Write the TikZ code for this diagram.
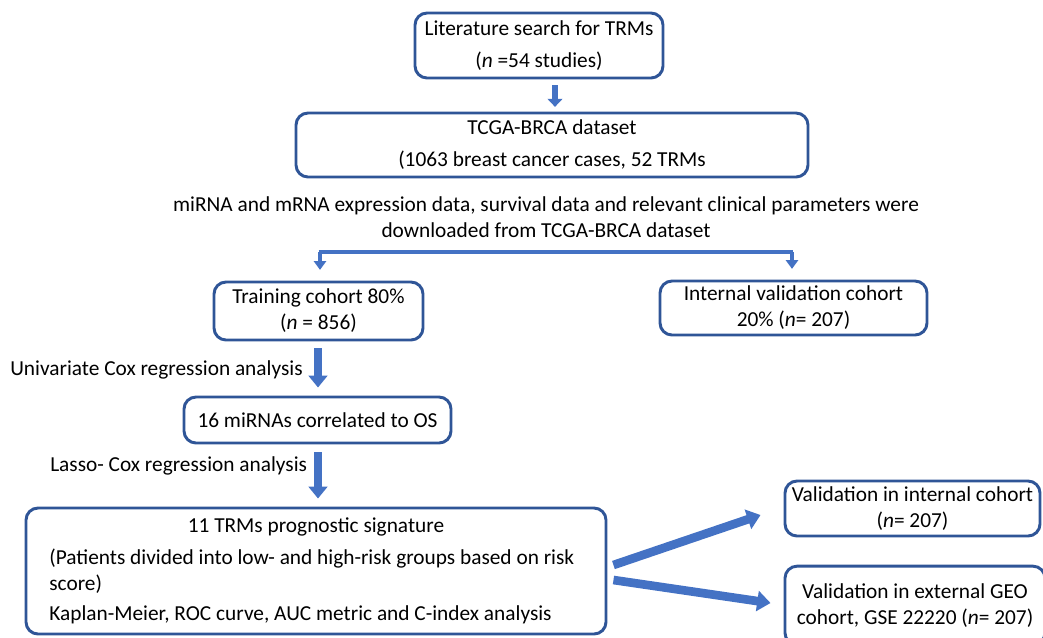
\documentclass[tikz,border=0pt]{standalone}
\usepackage{fontspec}
\setmainfont{Carlito}
\usetikzlibrary{arrows.meta,calc}
\definecolor{boxc}{HTML}{2F5597}
\definecolor{arrc}{HTML}{4472C4}
\begin{document}
\begin{tikzpicture}[x=0.75pt,y=-0.75pt,
  every node/.style={font=\fontsize{16}{19.5}\selectfont, text=black},
  box/.style={draw=boxc, line width=2.2pt, rounded corners=9pt, align=center, inner sep=0pt, fill=white},
  wide/.style={font=\fontsize{16}{24}\selectfont},
  lbl/.style={inner sep=0pt, anchor=west},
  blk/.style={draw=arrc, line width=6pt, -{Triangle[width=14pt,length=9pt]}},
  blksmall/.style={draw=arrc, line width=4.5pt, -{Triangle[width=11pt,length=6pt]}},
  split/.style={draw=arrc, line width=2.4pt},
  splitarr/.style={draw=arrc, line width=2.4pt, -{Triangle[width=9pt,length=6.5pt]}},
  diag/.style={draw=arrc, line width=6.5pt, -{Triangle[width=15pt,length=10pt]}}
]
\useasboundingbox (0,0) rectangle (1043,637);

\node[box, wide, minimum width=186pt, minimum height=48.75pt] (lit) at (539,45.5)
  {Literature search for TRMs\\(\textit{n} =54 studies)};
\node[box, wide, minimum width=384pt, minimum height=48pt] (tcga) at (552,145)
  {TCGA-BRCA dataset\\(1063 breast cancer cases, 52 TRMs};
\node[align=center, inner sep=0pt, font=\fontsize{16}{20}\selectfont] (desc) at (546,217)
  {miRNA and mRNA expression data, survival data and relevant clinical parameters were\\downloaded from TCGA-BRCA dataset};

\node[box, minimum width=156.75pt, minimum height=43.5pt] (train) at (318.5,311)
  {Training cohort 80\%\\(\textit{n} = 856)};
\node[box, minimum width=200.25pt, minimum height=40.5pt] (ival) at (793.5,308)
  {Internal validation cohort\\20\% (\textit{n}= 207)};

\node[box, minimum width=200.25pt, minimum height=34.5pt] (mir) at (317.5,420)
  {16 miRNAs correlated to OS};

\node[box, align=left, minimum width=435pt, minimum height=94.5pt] (sig) at (316,571)
  {\makebox[400pt]{11 TRMs prognostic signature}\\[4.5pt]
   (Patients divided into low- and high-risk groups based on risk\\
   score)\\[3pt]
   Kaplan-Meier, ROC curve, AUC metric and C-index analysis};

\node[box, minimum width=191.25pt, minimum height=41.25pt] (vint) at (912.5,508.5)
  {Validation in internal cohort\\(\textit{n}= 207)};
\node[box, minimum width=195pt, minimum height=59pt] (vext) at (915,605.5)
  {Validation in external GEO\\cohort, GSE 22220 (\textit{n}= 207)};

\node[lbl] (univ) at (10,370) {Univariate Cox regression analysis};
\node[lbl] (lasso) at (50,466) {Lasso- Cox regression analysis};

% connectors
\draw[blksmall, shorten <=4.5pt, shorten >=3.5pt] (lit.south -| 555,0) -- (tcga.north -| 555,0);

\coordinate (sL) at (320,252);
\coordinate (sR) at (792,252);
\draw[split] ($(sL)+(-1.3,0)$) -- ($(sR)+(1.3,0)$);
\draw[splitarr, shorten >=8pt] (sL) -- (sL |- train.north);
\draw[splitarr, shorten >=8pt] (sR) -- (sR |- ival.north);

\draw[blk, shorten <=5pt, shorten >=6pt] (train.south -| 318,0) -- (mir.north -| 318,0);
\draw[blk, shorten <=6pt, shorten >=6pt] (mir.south -| 318,0) -- (sig.north -| 318,0);

\draw[diag] ($(sig.east)+(6,-6)$) -- ($(vint.west)+(-23,6.5)$);
\draw[diag] ($(sig.east)+(6,9)$) -- ($(vext.west)+(-13,-2.5)$);
\end{tikzpicture}
\end{document}
